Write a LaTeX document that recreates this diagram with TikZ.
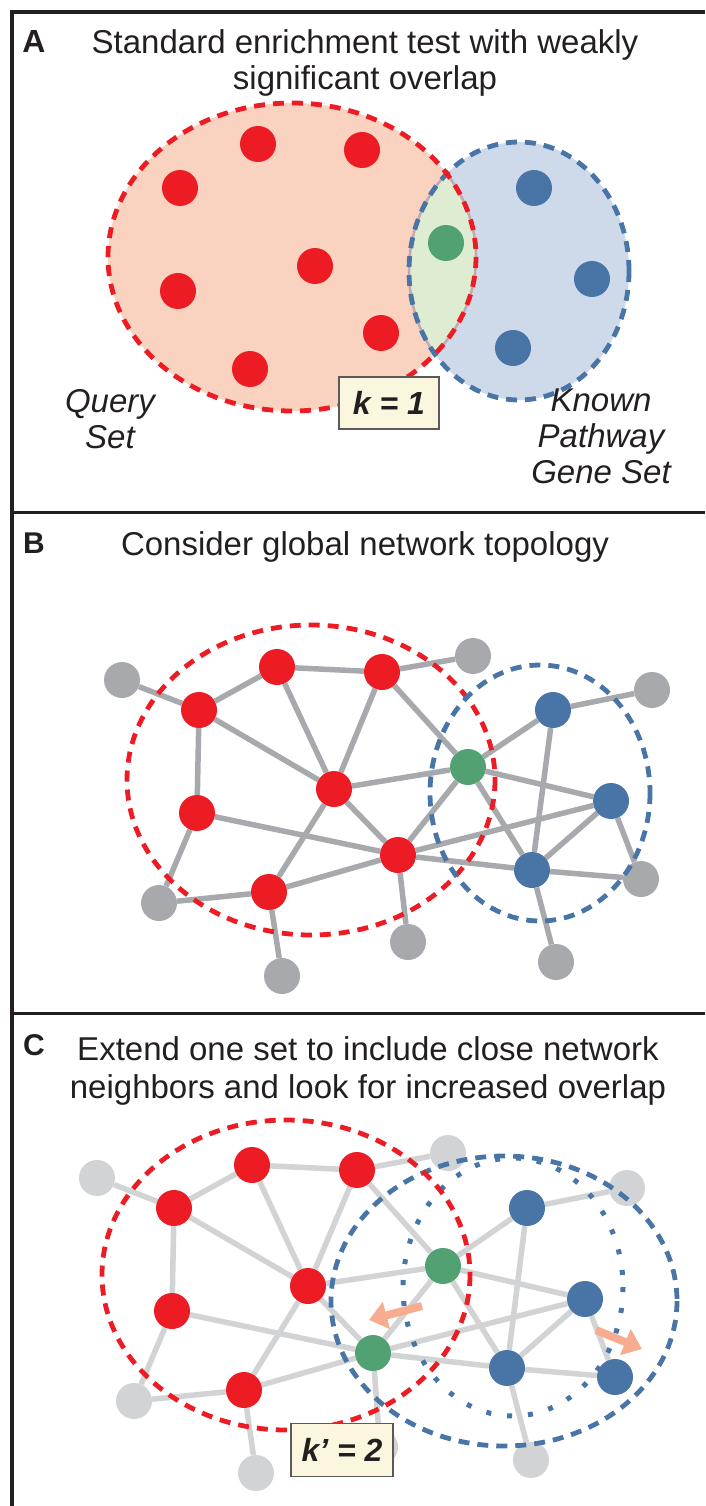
\documentclass[tikz,border=0pt]{standalone}
\usepackage{fontspec}
\setmainfont{Liberation Sans}
\usetikzlibrary{arrows.meta,backgrounds}

\definecolor{inkgray}{RGB}{35,31,32}
\definecolor{qred}{RGB}{237,28,36}
\definecolor{pblue}{RGB}{72,117,166}
\definecolor{sgreen}{RGB}{82,161,115}
\definecolor{ograyB}{RGB}{168,169,173}
\definecolor{ograyC}{RGB}{210,211,213}
\definecolor{qfill}{RGB}{250,211,192}
\definecolor{pfill}{RGB}{206,218,233}
\definecolor{lensfill}{RGB}{222,236,209}
\definecolor{lensline}{RGB}{196,168,175}
\definecolor{movearrow}{RGB}{247,172,143}
\definecolor{kfill}{RGB}{251,246,222}
\definecolor{boxline}{RGB}{90,90,90}

\begin{document}
\begin{tikzpicture}[x=1pt,y=-1pt,
    every node/.style={text=inkgray},
    gene/.style={circle,minimum size=36pt,inner sep=0pt},
    qgene/.style={gene,fill=qred},
    pgene/.style={gene,fill=pblue},
    sgene/.style={gene,fill=sgreen},
    ogene/.style={gene,fill=ograyB},
    link/.style={draw=ograyB,line width=5.5pt},
    qset/.style={draw=qred,line width=4.8pt,dash pattern=on 11pt off 8pt},
    pset/.style={draw=pblue,line width=4.8pt,dash pattern=on 11pt off 8pt},
    pnear/.style={draw=pblue,line width=5pt,dash pattern=on 5pt off 16pt},
    panel/.style={font=\fontsize{32}{36}\selectfont\bfseries,anchor=base,inner sep=0pt},
    headline/.style={font=\fontsize{33}{36}\selectfont,align=center,anchor=north,inner sep=0pt},
    setname/.style={font=\fontsize{33}{36}\selectfont\itshape,align=center,anchor=north,inner sep=0pt},
    kbox/.style={draw=boxline,line width=1.2pt,fill=kfill,minimum width=100pt,minimum height=52pt,
                 inner sep=0pt,font=\fontsize{32}{36}\selectfont\bfseries\itshape},
    pull/.style={draw=movearrow,line width=8pt,-{Triangle[length=18pt,width=27pt]}}]

  \useasboundingbox (0,0) rectangle (705,1506);

  % frame
  \draw[inkgray,line width=3.5pt] (705,12) -- (12,12) -- (12,1506);
  \draw[inkgray,line width=3pt] (12,512) -- (705,512);
  \draw[inkgray,line width=3pt] (12,1013) -- (705,1013);

  % ---------- A ----------
  \node[panel] (lblA) at (34,53) {A};
  \node[headline] (tA) at (365,29) {Standard enrichment test with weakly\\significant overlap};

  \fill[qfill] (292,257) ellipse [x radius=184,y radius=154];
  \fill[pfill] (519,271) ellipse [x radius=110,y radius=129];
  \begin{scope}
    \clip (292,257) ellipse [x radius=184,y radius=154];
    \fill[lensfill] (519,271) ellipse [x radius=110,y radius=129];
    \draw[lensline,line width=2.5pt] (519,271) ellipse [x radius=110,y radius=129];
  \end{scope}
  \begin{scope}
    \clip (519,271) ellipse [x radius=110,y radius=129];
    \draw[lensline,line width=2.5pt] (292,257) ellipse [x radius=184,y radius=154];
  \end{scope}

  \node[qgene] (Aq1) at (258,144) {};
  \node[qgene] (Aq2) at (362,150) {};
  \node[qgene] (Aq3) at (180,188) {};
  \node[qgene] (Aq4) at (315,266) {};
  \node[qgene] (Aq5) at (178,291) {};
  \node[qgene] (Aq6) at (381,333) {};
  \node[qgene] (Aq7) at (250,369) {};
  \node[sgene] (Ax)  at (446,243) {};
  \node[pgene] (Ap1) at (534,188) {};
  \node[pgene] (Ap2) at (592,279) {};
  \node[pgene] (Ap3) at (513,348) {};

  \draw[pset] (519,271) ellipse [x radius=110,y radius=129];
  \draw[qset] (292,257) ellipse [x radius=184,y radius=154];

  \node[setname] (qname) at (110,389) {Query\\Set};
  \node[setname] (pname) at (601,389) {Known\\Pathway\\Gene Set};
  \node[kbox] (kA) at (389,403) {k = 1};

  % ---------- B ----------
  \node[panel,font=\fontsize{30}{36}\selectfont\bfseries] (lblB) at (34,553) {B};
  \node[headline] (tB) at (365,531) {Consider global network topology};

  \node[ogene] (Bg1) at (122,680) {};
  \node[ogene] (Bg2) at (473,656) {};
  \node[ogene] (Bg3) at (652,690) {};
  \node[ogene] (Bg4) at (159,903) {};
  \node[ogene] (Bg5) at (641,879) {};
  \node[ogene] (Bg6) at (408,942) {};
  \node[ogene] (Bg7) at (282,976) {};
  \node[ogene] (Bg8) at (556,962) {};
  \node[qgene] (Br1) at (277,667) {};
  \node[qgene] (Br2) at (382,672) {};
  \node[qgene] (Br3) at (199,710) {};
  \node[qgene] (Br4) at (334,789) {};
  \node[qgene] (Br5) at (197,813) {};
  \node[qgene] (Br6) at (398,855) {};
  \node[qgene] (Br7) at (269,892) {};
  \node[sgene] (Bx)  at (468,767) {};
  \node[pgene] (Bb1) at (553,710) {};
  \node[pgene] (Bb2) at (611,801) {};
  \node[pgene] (Bb3) at (532,870) {};

  \begin{pgfonlayer}{background}
    \foreach \a/\b in {g1/r3,r3/r1,r1/r2,r2/g2,r1/r4,r2/r4,r3/r4,r3/r5,r2/x,r4/x,
                       r4/r6,r4/r7,r5/r6,r5/g4,g4/r7,r7/r6,r7/g7,r6/g6,r6/x,r6/b2,
                       r6/b3,x/b1,x/b2,x/b3,b1/g3,b1/b3,b2/b3,b2/g5,b3/g5,b3/g8}
      \draw[link] (B\a) -- (B\b);
  \end{pgfonlayer}

  \draw[qset] (311,780) ellipse [x radius=184,y radius=155];
  \draw[pset] (540,793) ellipse [x radius=110,y radius=128];

  % ---------- C ----------
  \node[panel,font=\fontsize{30}{36}\selectfont\bfseries] (lblC) at (34,1055) {C};
  \node[headline,font=\fontsize{33}{38}\selectfont] (tC) at (368,1036)
    {Extend one set to include close network\\neighbors and look for increased overlap};

  \begin{scope}[ogene/.style={gene,fill=ograyC},link/.style={draw=ograyC,line width=5.5pt}]
  \node[ogene] (Cg1) at (97,1178) {};
  \node[ogene] (Cg2) at (448,1153) {};
  \node[ogene] (Cg3) at (627,1188) {};
  \node[ogene] (Cg4) at (134,1401) {};
  \node[ogene] (Cg6) at (380,1447) {};
  \node[ogene] (Cg7) at (256,1473) {};
  \node[ogene] (Cg8) at (531,1460) {};
  \node[qgene] (Cr1) at (252,1165) {};
  \node[qgene] (Cr2) at (357,1170) {};
  \node[qgene] (Cr3) at (174,1208) {};
  \node[qgene] (Cr4) at (308,1286) {};
  \node[qgene] (Cr5) at (172,1311) {};
  \node[qgene] (Cr7) at (244,1390) {};
  \node[sgene] (Cx)  at (443,1266) {};
  \node[sgene] (Cy)  at (373,1353) {};
  \node[pgene] (Cb1) at (527,1208) {};
  \node[pgene] (Cb2) at (585,1299) {};
  \node[pgene] (Cb3) at (507,1368) {};
  \node[pgene] (Cb4) at (615,1377) {};

  \begin{pgfonlayer}{background}
    \foreach \a/\b in {g1/r3,r3/r1,r1/r2,r2/g2,r1/r4,r2/r4,r3/r4,r3/r5,r2/x,r4/x,
                       r4/y,r4/r7,r5/y,r5/g4,g4/r7,r7/y,r7/g7,y/g6,y/x,y/b2,
                       y/b3,x/b1,x/b2,x/b3,b1/g3,b1/b3,b2/b3,b2/b4,b3/b4,b3/g8}
      \draw[link] (C\a) -- (C\b);
  \end{pgfonlayer}
  \end{scope}

  \draw[pnear] (513,1287) ellipse [x radius=110,y radius=129];
  \draw[pset] (504,1301) ellipse [x radius=173,y radius=145];
  \draw[qset] (286,1275) ellipse [x radius=184,y radius=155];

  \coordinate (pullA) at (422,1306);
  \coordinate (pullAend) at (369,1320);
  \coordinate (pullB) at (596,1330);
  \coordinate (pullBend) at (642,1349);
  \draw[pull] (pullA) -- (pullAend);
  \draw[pull] (pullB) -- (pullBend);

  \node[kbox,minimum width=102pt,minimum height=53pt] (kC) at (342,1450) {k’ = 2};
\end{tikzpicture}
\end{document}
